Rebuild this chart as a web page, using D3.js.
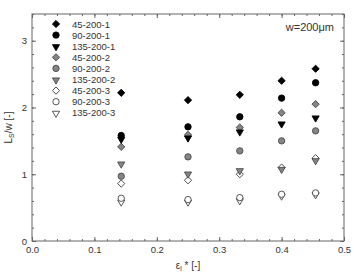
<!DOCTYPE html>
<meta charset="utf-8">
<style>
body { margin: 0; background: #fff; }
text { font-family: "Liberation Sans", Arial, sans-serif; }
.axis path { stroke: #666; }
.axis line { stroke: #666; }
.axis text { fill: #333; font-size: 9.5px; }
</style>
<body>
<script src="https://cdn.jsdelivr.net/npm/d3@7"></script>
<script>
// x positions (epsilon_l*)
var eps = [0.143, 0.25, 0.333, 0.4, 0.4545];

// Ls/w values per series
var s45_1  = [2.22, 2.11, 2.19, 2.40, 2.58];
var s90_1  = [1.58, 1.71, 1.86, 2.14, 2.37];
var s135_1 = [1.53, 1.55, 1.64, 1.76, 1.85];
var s45_2  = [1.41, 1.59, 1.70, 1.92, 2.05];
var s90_2  = [0.97, 1.26, 1.35, 1.50, 1.65];
var s135_2 = [1.16, 1.01, 1.06, 1.08, 1.21];
var s45_3  = [0.86, 0.91, 1.00, 1.10, 1.24];
var s90_3  = [0.64, 0.62, 0.65, 0.70, 0.72];
var s135_3 = [0.59, 0.59, 0.61, 0.68, 0.70];

var names = ["45-200-1", "90-200-1", "135-200-1", "45-200-2", "90-200-2",
             "135-200-2", "45-200-3", "90-200-3", "135-200-3"];
var values = [s45_1, s90_1, s135_1, s45_2, s90_2, s135_2, s45_3, s90_3, s135_3];
var shapes = ["diamond", "circle", "triangle", "diamond", "circle",
              "triangle", "diamond", "circle", "triangle"];
var group = [1, 1, 1, 2, 2, 2, 3, 3, 3];

var xTicks = [0.0, 0.1, 0.2, 0.3, 0.4, 0.5];
var yTicks = [0, 1, 2, 3];

var width = 354, height = 274;
var margin = {top: 14, right: 10, bottom: 33, left: 32};
var w = width - margin.left - margin.right,
    h = height - margin.top - margin.bottom;

var x = d3.scaleLinear().domain([0, 0.5]).range([0, w]);
var y = d3.scaleLinear().domain([0, 3.4]).range([h, 0]);

var svg = d3.select("body").append("svg")
    .attr("width", width)
    .attr("height", height)
  .append("g")
    .attr("transform", "translate(" + margin.left + "," + margin.top + ")");

// frame
svg.append("rect")
    .attr("width", w).attr("height", h)
    .attr("fill", "none").attr("stroke", "#666");

var xMinor = d3.range(0, 0.5001, 0.02);
var yMinor = d3.range(0, 3.4001, 0.2);

function addAxis(gen, tr, ticks, major, fmt, showText) {
  // minor ticks
  svg.append("g").attr("class", "axis")
      .attr("transform", tr)
      .call(gen.tickValues(ticks).tickSize(-2).tickFormat(""))
      .select(".domain").remove();
  var g = svg.append("g").attr("class", "axis")
      .attr("transform", tr)
      .call(gen.tickValues(major).tickSize(-4).tickPadding(5)
               .tickFormat(showText ? fmt : ""));
  g.select(".domain").remove();
  return g;
}

addAxis(d3.axisBottom(x), "translate(0," + h + ")", xMinor, xTicks, d3.format(".1f"), true);
addAxis(d3.axisTop(x), "translate(0,0)", xMinor, xTicks, d3.format(".1f"), false);
addAxis(d3.axisLeft(y), "translate(0,0)", yMinor, yTicks, d3.format("d"), true);
addAxis(d3.axisRight(y), "translate(" + w + ",0)", yMinor, yTicks, d3.format("d"), false);

function symPath(shape) {
  if (shape === "diamond") return d3.symbol().type(d3.symbolSquare).size(26)();
  if (shape === "circle") return d3.symbol().type(d3.symbolCircle).size(32)();
  return d3.symbol().type(d3.symbolTriangle).size(22)();
}
function symTransform(shape, px, py) {
  if (shape === "diamond") return "translate(" + px + "," + py + ") rotate(45)";
  if (shape === "triangle") return "translate(" + px + "," + (py + 0.5) + ") rotate(180)";
  return "translate(" + px + "," + py + ")";
}
function fillOf(g) { return g === 1 ? "#000" : (g === 2 ? "#858585" : "#fff"); }
function strokeOf(g) { return g === 1 ? "#000" : (g === 2 ? "#4a4a4a" : "#444"); }

// points, draw series 3 first so darker ones sit on top as in the figure
for (var i = values.length - 1; i >= 0; i--) {
  svg.append("g").selectAll("path")
      .data(values[i])
    .enter().append("path")
      .attr("d", symPath(shapes[i]))
      .attr("transform", function(d, j) { return symTransform(shapes[i], x(eps[j]), y(d)); })
      .attr("fill", fillOf(group[i]))
      .attr("stroke", strokeOf(group[i]))
      .attr("stroke-width", 0.9);
}

// legend
var leg = svg.append("g").attr("transform", "translate(24,10)");
names.forEach(function(n, i) {
  leg.append("path")
      .attr("d", symPath(shapes[i]))
      .attr("transform", symTransform(shapes[i], 0, i * 11.1))
      .attr("fill", fillOf(group[i]))
      .attr("stroke", strokeOf(group[i]))
      .attr("stroke-width", 0.9);
  leg.append("text")
      .attr("x", 16).attr("y", i * 11.1 + 3.5)
      .attr("font-size", "9.5px").attr("fill", "#333")
      .text(n);
});

// annotation
svg.append("text")
    .attr("x", w - 10).attr("y", 17)
    .attr("text-anchor", "end")
    .attr("font-size", "11px").attr("fill", "#333")
    .text("w=200\u03bcm");

// axis labels
svg.append("text")
    .attr("transform", "translate(-20," + (h / 2) + ") rotate(-90)")
    .attr("text-anchor", "middle")
    .attr("font-size", "10px").attr("fill", "#333")
    .html("L<tspan font-size='7px' dy='2'>S</tspan><tspan dy='-2'>/w [-]</tspan>");

svg.append("text")
    .attr("x", w / 2).attr("y", h + 28)
    .attr("text-anchor", "middle")
    .attr("font-size", "10px").attr("fill", "#333")
    .html("\u03b5<tspan font-size='7px' dy='2'>l</tspan><tspan dy='-2'> * [-]</tspan>");
</script>
</body>
